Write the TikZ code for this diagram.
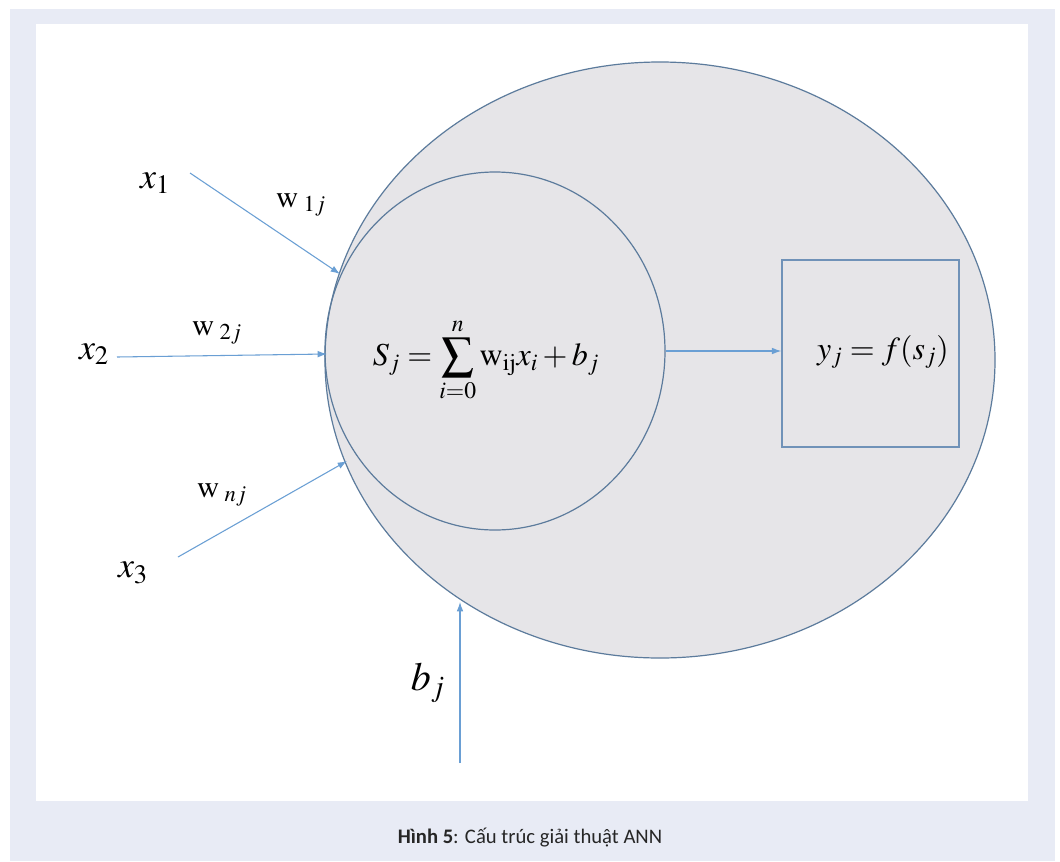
\documentclass[tikz,border=0pt]{standalone}
\usepackage{mathptmx}
\usepackage[no-math]{fontspec}
\newfontfamily\capfont{Carlito}
\usetikzlibrary{shapes.geometric,arrows.meta}
\definecolor{bandblue}{HTML}{E8EBF5}
\definecolor{shapefill}{HTML}{E6E5E8}
\definecolor{shapeline}{HTML}{5C7B9C}
\definecolor{arrowblue}{HTML}{6A9FD4}
\definecolor{boxline}{HTML}{7092B8}
\tikzset{
  inarrow/.style={draw=arrowblue, line width=0.8pt, -{Latex[length=7pt,width=5pt]}},
  biglabel/.style={inner sep=0pt, font=\fontsize{27}{32}\selectfont},
  wlabel/.style={inner sep=0pt, font=\fontsize{23}{27}\selectfont},
  formula/.style={inner sep=0pt, font=\fontsize{24}{29}\selectfont},
}
\begin{document}
\begin{tikzpicture}[x=0.75pt,y=-0.75pt]
\useasboundingbox (0,0) rectangle (1060,861);
\fill[white] (0,0) rectangle (1060,861);
\fill[bandblue] (10,9) rectangle (1055,861);
\fill[white] (36,24) rectangle (1028,801);

% shapes
\node[ellipse, draw=shapeline, fill=shapefill, line width=0.9pt,
      minimum width=502.5pt, minimum height=447pt, inner sep=0pt] (outer) at (660,360) {};
\node[ellipse, draw=shapeline, line width=0.9pt,
      minimum width=255pt, minimum height=268.5pt, inner sep=0pt] (inner) at (495,351) {};
\node[rectangle, draw=boxline, line width=1.1pt,
      minimum width=132.75pt, minimum height=140.25pt, inner sep=0pt] (box) at (870.5,353.5) {};

% labels
\node[biglabel] (x1) at (155,183) {$x_1$};
\node[biglabel] (x2) at (94,354) {$x_2$};
\node[biglabel] (x3) at (133,573) {$x_3$};
\node[wlabel] (w1) at (301,205) {$\mathrm{w}_{\kern4pt 1j}$};
\node[wlabel] (w2) at (217,333) {$\mathrm{w}_{\kern4pt 2j}$};
\node[wlabel] (wn) at (222,495) {$\mathrm{w}_{\kern4pt nj}$};
\node[inner sep=0pt, font=\fontsize{30}{36}\selectfont] (bj) at (428,683) {$b_j$};
\node[formula] (sum) at (486,360) {$S_j=\displaystyle\sum_{i=0}^{n}\mathrm{w}_{\mathrm{ij}}x_i+b_j$};
\node[formula] (yj) at (883,352) {$y_j=f(s_j)$};

% connector end points
\coordinate (a1s) at (190,173);
\coordinate (a1e) at (340,274);
\coordinate (a2s) at (117,357);
\coordinate (a2e) at (327,354);
\coordinate (a3s) at (178,557);
\coordinate (a3e) at (347,461);
\coordinate (abs) at (460,763);
\coordinate (abe) at (460,602);

\draw[inarrow] (a1s) -- (a1e);
\draw[inarrow] (a2s) -- (a2e);
\draw[inarrow] (a3s) -- (a3e);
\draw[inarrow] (abs) -- (abe);
\draw[inarrow] (inner.east) -- (inner.east -| box.west);

% caption
\node[inner sep=0pt, font=\capfont\fontsize{15.5}{18}\selectfont, text=black!85] (cap) at (530,838)
  {\textbf{Hình 5}: Cấu trúc giải thuật ANN};
\end{tikzpicture}
\end{document}
